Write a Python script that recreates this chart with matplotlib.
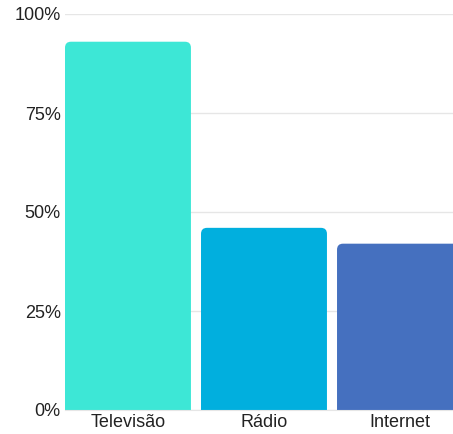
import matplotlib.pyplot as plt
from matplotlib.patches import FancyBboxPatch
from matplotlib.ticker import FuncFormatter

# dados
categorias = ["Televisão", "Rádio", "Internet"]
valores = [93, 46, 42]
cores = ["#3DE7D6", "#01AFDE", "#4570BF"]
ticks_y = [0, 25, 50, 75, 100]

plt.rcParams['font.family'] = ['Liberation Sans', 'DejaVu Sans']

W, H = 453, 434
fig = plt.figure(figsize=(W / 100, H / 100), dpi=100)
ax = fig.add_axes([65 / W, 24 / H, 1 - 65 / W, (410 - 14) / H])

largura = 0.926
x = range(len(categorias))
barras = ax.bar(x, valores, width=largura, color="none")

# cantos arredondados no topo
px_x = 1 / 136.0
px_y = 100 / 396.0
raio = 6 * px_x
for b, cor in zip(barras, cores):
    b.set_visible(False)
    p = FancyBboxPatch((b.get_x(), -10), b.get_width(), b.get_height() + 10,
                       boxstyle=f"round,pad=0,rounding_size={raio}",
                       mutation_aspect=px_y / px_x,
                       facecolor=cor, edgecolor="none", zorder=3)
    ax.add_patch(p)

ax.set_xlim(-largura / 2, (453 - 128) / 136.0)
ax.set_ylim(0, 100)
ax.set_yticks(ticks_y)
ax.yaxis.set_major_formatter(FuncFormatter(lambda v, _: f"{v:.0f}%"))
ax.set_xticks(list(x))
ax.set_xticklabels(categorias)

ax.grid(axis="y", color="#e6e6e6", linewidth=1, zorder=0)
ax.set_axisbelow(True)
for s in ax.spines.values():
    s.set_visible(False)
ax.spines["bottom"].set_visible(True)
ax.spines["bottom"].set_color("#e6e6e6")
ax.spines["bottom"].set_zorder(4)
ax.tick_params(length=0, labelsize=13, colors="#222222", pad=3)
ax.tick_params(axis="x", pad=3)

fig.savefig("out.png", dpi=100)
